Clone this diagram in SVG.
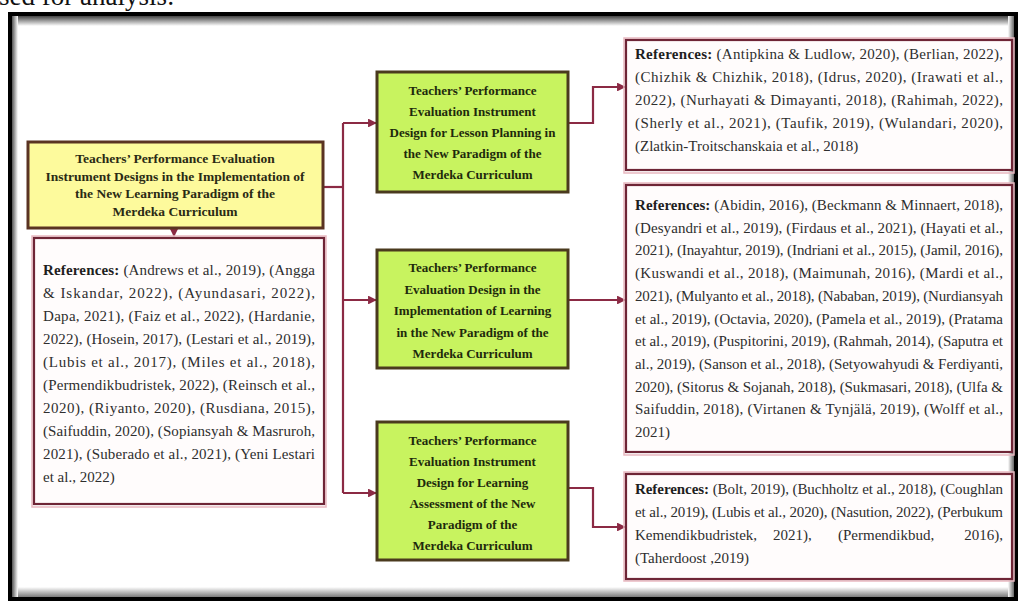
<svg xmlns="http://www.w3.org/2000/svg" width="1022" height="601" viewBox="0 0 1022 601">
<style>
.pg{font-family:"Liberation Serif","Times New Roman",serif;font-size:27px;fill:#111}
.ttl{font-family:"Liberation Serif","Times New Roman",serif;font-weight:bold;fill:#2a2a14;text-anchor:middle}
.yt{font-size:13.5px}
.gt{font-size:13px;fill:#1e2a0c}
.ref{font-family:"Liberation Serif","Times New Roman",serif;font-size:15px;fill:#2e2e2e}
.b{font-weight:bold;fill:#1e1e1e}
.refbox{fill:#fffcfc;stroke:#6e2536;stroke-width:2.2}
.glow{fill:none;stroke:#e9b9c1;stroke-width:1.5}
.green{fill:#c8f35f;stroke:#4a3a1e;stroke-width:3}
.yellow{fill:#fdfa9c;stroke:#5a3322;stroke-width:3}
.con{fill:none;stroke:#8b2a44;stroke-width:2.2}
</style>
<defs>
<marker id="ah" viewBox="0 0 10 10" refX="9" refY="5" markerWidth="4" markerHeight="4" orient="auto" markerUnits="strokeWidth">
<path d="M0,0 L10,5 L0,10 z" fill="#8b2a44"/>
</marker>
<linearGradient id="gTop" x1="0" y1="0" x2="0" y2="1"><stop offset="0" stop-color="#444"/><stop offset="1" stop-color="#fff"/></linearGradient>
<linearGradient id="gBot" x1="0" y1="0" x2="0" y2="1"><stop offset="0" stop-color="#fff"/><stop offset="1" stop-color="#7a7a7a"/></linearGradient>
<linearGradient id="gLeft" x1="0" y1="0" x2="1" y2="0"><stop offset="0" stop-color="#555"/><stop offset="1" stop-color="#fff"/></linearGradient>
<linearGradient id="gRight" x1="0" y1="0" x2="1" y2="0"><stop offset="0" stop-color="#fff"/><stop offset="1" stop-color="#666"/></linearGradient>
</defs>
<rect x="0" y="0" width="1022" height="601" fill="#fff"/>
<text class="pg" x="-1" y="5">sed for analysis:</text>
<g id="frame">
<rect x="10" y="14" width="1006" height="585" fill="#fff" stroke="#000" stroke-width="4"/>
<rect x="12" y="16" width="1002" height="10" fill="url(#gTop)"/>
<rect x="12" y="587" width="1002" height="10" fill="url(#gBot)"/>
<rect x="12" y="16" width="6" height="581" fill="url(#gLeft)"/>
<rect x="1008" y="16" width="6" height="581" fill="url(#gRight)"/>
</g>
<g id="connectors">
<path class="con" d="M323,187 H343"/>
<path class="con" d="M174,228 V236" marker-end="url(#ah)"/>
<path class="con" d="M343,123 V493"/>
<path class="con" d="M343,123 H376" marker-end="url(#ah)"/>
<path class="con" d="M343,300 H376" marker-end="url(#ah)"/>
<path class="con" d="M343,493 H376" marker-end="url(#ah)"/>
<path class="con" d="M568,123 H593 V87 H625" marker-end="url(#ah)"/>
<path class="con" d="M568,300 H625" marker-end="url(#ah)"/>
<path class="con" d="M568,488 H593 V527 H625" marker-end="url(#ah)"/>
</g>
<g id="main">
<rect class="yellow" x="28" y="142" width="295" height="86"/>
<text class="ttl yt" x="175" y="163">Teachers’ Performance Evaluation</text>
<text class="ttl yt" x="175" y="180.5">Instrument Designs in the Implementation of</text>
<text class="ttl yt" x="175" y="198">the New Learning Paradigm of the</text>
<text class="ttl yt" x="175" y="215.5">Merdeka Curriculum</text>
</g>
<g id="refs-main">
<rect class="glow" x="32" y="236" width="294" height="271"/>
<rect class="refbox" x="34" y="238" width="290" height="266"/>
<text class="ref" x="43" y="275" textLength="272" lengthAdjust="spacing"><tspan class="b">References:</tspan> (Andrews et al., 2019), (Angga</text>
<text class="ref" x="43" y="298" textLength="272" lengthAdjust="spacing">&amp; Iskandar, 2022), (Ayundasari, 2022),</text>
<text class="ref" x="43" y="321" textLength="272" lengthAdjust="spacing">Dapa, 2021), (Faiz et al., 2022), (Hardanie,</text>
<text class="ref" x="43" y="344" textLength="272" lengthAdjust="spacing">2022), (Hosein, 2017), (Lestari et al., 2019),</text>
<text class="ref" x="43" y="367" textLength="272" lengthAdjust="spacing">(Lubis et al., 2017), (Miles et al., 2018),</text>
<text class="ref" x="43" y="390" textLength="272" lengthAdjust="spacing">(Permendikbudristek, 2022), (Reinsch et al.,</text>
<text class="ref" x="43" y="413" textLength="272" lengthAdjust="spacing">2020), (Riyanto, 2020), (Rusdiana, 2015),</text>
<text class="ref" x="43" y="436" textLength="272" lengthAdjust="spacing">(Saifuddin, 2020), (Sopiansyah &amp; Masruroh,</text>
<text class="ref" x="43" y="459" textLength="272" lengthAdjust="spacing">2021), (Suberado et al., 2021), (Yeni Lestari</text>
<text class="ref" x="43" y="482">et al., 2022)</text>
</g>
<g id="planning">
<rect class="green" x="377" y="72" width="191" height="120"/>
<text class="ttl gt" x="472.5" y="95">Teachers’ Performance</text>
<text class="ttl gt" x="472.5" y="116">Evaluation Instrument</text>
<text class="ttl gt" x="472.5" y="137">Design for Lesson Planning in</text>
<text class="ttl gt" x="472.5" y="158">the New Paradigm of the</text>
<text class="ttl gt" x="472.5" y="179">Merdeka Curriculum</text>
</g>
<g id="implementation">
<rect class="green" x="377" y="250" width="191" height="118"/>
<text class="ttl gt" x="472.5" y="272">Teachers’ Performance</text>
<text class="ttl gt" x="472.5" y="293.5">Evaluation Design in the</text>
<text class="ttl gt" x="472.5" y="315">Implementation of Learning</text>
<text class="ttl gt" x="472.5" y="336.5">in the New Paradigm of the</text>
<text class="ttl gt" x="472.5" y="358">Merdeka Curriculum</text>
</g>
<g id="assessment">
<rect class="green" x="377" y="422" width="191" height="138"/>
<text class="ttl gt" x="472.5" y="445">Teachers’ Performance</text>
<text class="ttl gt" x="472.5" y="466">Evaluation Instrument</text>
<text class="ttl gt" x="472.5" y="487">Design for  Learning</text>
<text class="ttl gt" x="472.5" y="508">Assessment of the New</text>
<text class="ttl gt" x="472.5" y="529">Paradigm of the</text>
<text class="ttl gt" x="472.5" y="550">Merdeka Curriculum</text>
</g>
<g id="refs-planning">
<rect class="glow" x="624" y="38" width="390" height="135"/>
<rect class="refbox" x="626" y="40" width="386" height="130"/>
<text class="ref" x="635" y="59" textLength="368" lengthAdjust="spacing"><tspan class="b">References:</tspan>  (Antipkina &amp; Ludlow, 2020), (Berlian, 2022),</text>
<text class="ref" x="635" y="82" textLength="368" lengthAdjust="spacing">(Chizhik &amp; Chizhik, 2018), (Idrus, 2020), (Irawati et al.,</text>
<text class="ref" x="635" y="105" textLength="368" lengthAdjust="spacing">2022), (Nurhayati &amp; Dimayanti, 2018), (Rahimah, 2022),</text>
<text class="ref" x="635" y="128" textLength="368" lengthAdjust="spacing">(Sherly et al., 2021), (Taufik, 2019), (Wulandari, 2020),</text>
<text class="ref" x="635" y="151">(Zlatkin-Troitschanskaia et al., 2018)</text>
</g>
<g id="refs-implementation">
<rect class="glow" x="624" y="183" width="390" height="272"/>
<rect class="refbox" x="626" y="185" width="386" height="267"/>
<text class="ref" x="635" y="210" textLength="368" lengthAdjust="spacing"><tspan class="b">References:</tspan>  (Abidin, 2016), (Beckmann &amp; Minnaert, 2018),</text>
<text class="ref" x="635" y="232.7" textLength="368" lengthAdjust="spacing">(Desyandri et al., 2019), (Firdaus et al., 2021), (Hayati et al.,</text>
<text class="ref" x="635" y="255.4" textLength="368" lengthAdjust="spacing">2021), (Inayahtur, 2019), (Indriani et al., 2015), (Jamil, 2016),</text>
<text class="ref" x="635" y="278.1" textLength="368" lengthAdjust="spacing">(Kuswandi et al., 2018), (Maimunah, 2016), (Mardi et al.,</text>
<text class="ref" x="635" y="300.8" textLength="368" lengthAdjust="spacing">2021), (Mulyanto et al., 2018), (Nababan, 2019), (Nurdiansyah</text>
<text class="ref" x="635" y="323.5" textLength="368" lengthAdjust="spacing">et al., 2019), (Octavia, 2020), (Pamela et al., 2019),  (Pratama</text>
<text class="ref" x="635" y="346.2" textLength="368" lengthAdjust="spacing">et al., 2019), (Puspitorini, 2019), (Rahmah, 2014), (Saputra et</text>
<text class="ref" x="635" y="368.9" textLength="368" lengthAdjust="spacing">al., 2019), (Sanson et al., 2018), (Setyowahyudi &amp; Ferdiyanti,</text>
<text class="ref" x="635" y="391.6" textLength="368" lengthAdjust="spacing">2020), (Sitorus &amp; Sojanah, 2018), (Sukmasari, 2018), (Ulfa &amp;</text>
<text class="ref" x="635" y="414.3" textLength="368" lengthAdjust="spacing">Saifuddin, 2018), (Virtanen &amp; Tynjälä, 2019), (Wolff et al.,</text>
<text class="ref" x="635" y="437">2021)</text>
</g>
<g id="refs-assessment">
<rect class="glow" x="624" y="472" width="390" height="109"/>
<rect class="refbox" x="626" y="474" width="386" height="105"/>
<text class="ref" x="635" y="494" textLength="368" lengthAdjust="spacing"><tspan class="b">References:</tspan> (Bolt, 2019), (Buchholtz et al., 2018), (Coughlan</text>
<text class="ref" x="635" y="517" textLength="368" lengthAdjust="spacing">et al., 2019), (Lubis et al., 2020), (Nasution, 2022), (Perbukum</text>
<text class="ref" x="635" y="540">Kemendikbudristek,</text>
<text class="ref" x="773" y="540">2021),</text>
<text class="ref" x="838" y="540">(Permendikbud,</text>
<text class="ref" x="1003" y="540" text-anchor="end">2016),</text>
<text class="ref" x="635" y="563">(Taherdoost ,2019)</text>
</g>
</svg>
